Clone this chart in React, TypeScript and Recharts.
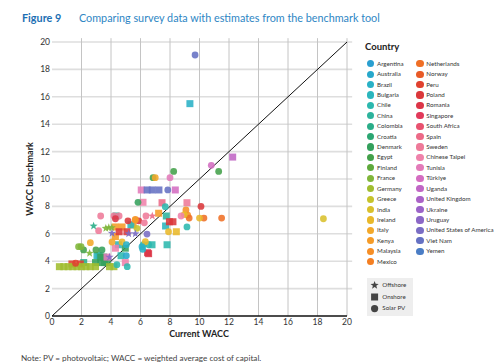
import { ScatterChart, Scatter, XAxis, YAxis, ReferenceLine } from 'recharts';

// Country legend order (two columns in the original)
const countries = [
  'Argentina', 'Australia', 'Brazil', 'Bulgaria', 'Chile', 'China', 'Colombia', 'Croatia',
  'Denmark', 'Egypt', 'Finland', 'France', 'Germany', 'Greece', 'India', 'Ireland', 'Italy',
  'Kenya', 'Malaysia', 'Mexico', 'Netherlands', 'Norway', 'Peru', 'Poland', 'Romania',
  'Singapore', 'South Africa', 'Spain', 'Sweden', 'Chinese Taipei', 'Tunisia', 'Türkiye',
  'Uganda', 'United Kingdom', 'Ukraine', 'Uruguay', 'United States of America', 'Viet Nam', 'Yemen',
];

const palette = [
  '#2a9fd0', '#27a8cb', '#29b1c6', '#2bb6bd', '#2cb8ae', '#2db39c', '#2bad88', '#2ca672',
  '#34a05c', '#43a04a', '#5ea93c', '#80b63a', '#a0bd2f', '#c6c32b', '#d9c02c', '#e9b82a', '#f3a82a',
  '#f59b27', '#f68e25', '#f47f22', '#ef6f25', '#e85a27', '#e0412f', '#db383b', '#dc3547',
  '#e13a5a', '#e8526f', '#ec6a87', '#ee7a99', '#ef82ab', '#e37bb9', '#d46dc1',
  '#c066c5', '#aa62c7', '#9b63c8', '#8b67c6', '#7a6dc4', '#6571c3', '#4a7dc5',
];

const shapeTypes = ['Offshore', 'Onshore', 'Solar PV'];

const xTicks = [0, 2, 4, 6, 8, 10, 12, 14, 16, 18, 20];
const yTicks = [0, 2, 4, 6, 8, 10, 12, 14, 16, 18, 20];
const diagonal = [{ x: 0, y: 0 }, { x: 20, y: 20 }];

// Survey points: current WACC (x) vs benchmark WACC (y)
const solarPv = [
  { c: 'Viet Nam', x: 9.7, y: 19.05 }, { c: 'Viet Nam', x: 7.85, y: 9.2 },
  { c: 'Egypt', x: 6.85, y: 10.1 }, { c: 'Egypt', x: 8.25, y: 10.55 }, { c: 'Egypt', x: 11.3, y: 10.55 },
  { c: 'Egypt', x: 2.14, y: 4.82 }, { c: 'Egypt', x: 2.98, y: 4.82 },
  { c: 'Italy', x: 7.0, y: 10.1 }, { c: 'Italy', x: 2.6, y: 5.35 }, { c: 'Italy', x: 4.07, y: 5.4 },
  { c: 'Tunisia', x: 8.0, y: 10.1 }, { c: 'Türkiye', x: 10.8, y: 11.0 },
  { c: 'Denmark', x: 5.83, y: 8.3 }, { c: 'Denmark', x: 3.39, y: 4.82 },
  { c: 'Chile', x: 7.68, y: 7.98 }, { c: 'Chile', x: 9.15, y: 6.5 }, { c: 'Chile', x: 6.2, y: 5.2 },
  { c: 'Chile', x: 6.55, y: 5.2 }, { c: 'Chile', x: 4.4, y: 3.75 }, { c: 'Chile', x: 5.1, y: 3.6 },
  { c: 'Poland', x: 10.1, y: 8.0 }, { c: 'Poland', x: 5.15, y: 6.95 }, { c: 'Poland', x: 5.88, y: 6.95 },
  { c: 'Malaysia', x: 9.08, y: 7.74 }, { c: 'Malaysia', x: 9.2, y: 7.37 }, { c: 'Malaysia', x: 5.65, y: 7.05 },
  { c: 'Netherlands', x: 9.3, y: 7.15 }, { c: 'Netherlands', x: 10.3, y: 7.15 }, { c: 'Netherlands', x: 11.5, y: 7.15 },
  { c: 'Ireland', x: 10.0, y: 7.15 }, { c: 'Ireland', x: 8.97, y: 7.4 }, { c: 'Ireland', x: 7.9, y: 6.15 },
  { c: 'Ireland', x: 4.75, y: 5.4 }, { c: 'Ireland', x: 6.33, y: 5.42 },
  { c: 'India', x: 18.4, y: 7.1 }, { c: 'Chinese Taipei', x: 8.75, y: 7.3 },
  { c: 'Sweden', x: 3.3, y: 7.3 }, { c: 'Sweden', x: 4.2, y: 7.3 }, { c: 'Sweden', x: 4.55, y: 7.3 },
  { c: 'Sweden', x: 6.37, y: 7.3 }, { c: 'Sweden', x: 3.16, y: 6.23 }, { c: 'Sweden', x: 6.26, y: 6.8 },
  { c: 'United States of America', x: 6.44, y: 5.98 },
  { c: 'France', x: 1.8, y: 5.06 }, { c: 'France', x: 1.97, y: 5.06 },
  { c: 'Kenya', x: 5.64, y: 7.0 }, { c: 'Romania', x: 4.3, y: 7.1 }, { c: 'Greece', x: 5.76, y: 6.4 },
  { c: 'Brazil', x: 6.15, y: 4.87 }, { c: 'Brazil', x: 5.04, y: 5.2 }, { c: 'Brazil', x: 6.1, y: 5.06 },
  { c: 'Australia', x: 5.04, y: 4.4 }, { c: 'Peru', x: 1.6, y: 3.85 },
];

const onshore = [
  { c: 'Brazil', x: 9.35, y: 15.5 }, { c: 'Uganda', x: 12.25, y: 11.6 },
  { c: 'Tunisia', x: 6.05, y: 9.2 }, { c: 'Viet Nam', x: 6.45, y: 9.2 }, { c: 'Viet Nam', x: 6.8, y: 9.2 },
  { c: 'Viet Nam', x: 7.25, y: 9.2 }, { c: 'Türkiye', x: 8.36, y: 9.2 },
  { c: 'Chinese Taipei', x: 6.17, y: 8.3 }, { c: 'Spain', x: 7.46, y: 8.27 }, { c: 'Sweden', x: 9.15, y: 8.27 },
  { c: 'Kenya', x: 7.23, y: 7.5 }, { c: 'Kenya', x: 4.3, y: 6.5 }, { c: 'Kenya', x: 4.75, y: 6.5 },
  { c: 'Kenya', x: 4.3, y: 5.8 }, { c: 'Kenya', x: 5.5, y: 6.65 },
  { c: 'China', x: 4.34, y: 7.3 }, { c: 'China', x: 7.75, y: 7.3 },
  { c: 'Bulgaria', x: 7.7, y: 6.57 }, { c: 'Bulgaria', x: 3.05, y: 4.4 }, { c: 'Bulgaria', x: 3.2, y: 4.4 },
  { c: 'Bulgaria', x: 4.5, y: 5.2 }, { c: 'Bulgaria', x: 5.35, y: 6.65 },
  { c: 'Poland', x: 7.96, y: 6.88 }, { c: 'Poland', x: 8.2, y: 6.88 }, { c: 'Poland', x: 4.55, y: 6.15 },
  { c: 'Poland', x: 5.08, y: 6.15 }, { c: 'Ireland', x: 8.43, y: 6.15 },
  { c: 'Chile', x: 6.78, y: 5.2 }, { c: 'Chile', x: 7.8, y: 5.2 }, { c: 'Chile', x: 4.68, y: 4.4 },
  { c: 'Romania', x: 6.48, y: 4.62 }, { c: 'Romania', x: 6.55, y: 4.55 },
  { c: 'Chinese Taipei', x: 4.3, y: 4.95 }, { c: 'Chinese Taipei', x: 4.97, y: 3.9 },
  { c: 'Denmark', x: 4.97, y: 4.95 }, { c: 'Denmark', x: 3.3, y: 3.9 }, { c: 'Denmark', x: 3.55, y: 3.9 },
  { c: 'Denmark', x: 3.75, y: 3.9 }, { c: 'Denmark', x: 2.95, y: 3.9 }, { c: 'Denmark', x: 3.5, y: 4.3 },
  { c: 'Denmark', x: 3.3, y: 4.3 }, { c: 'Colombia', x: 2.15, y: 3.9 },
  { c: 'Peru', x: 1.35, y: 3.8 }, { c: 'Peru', x: 1.92, y: 3.8 }, { c: 'Tunisia', x: 3.73, y: 4.3 },
  { c: 'Germany', x: 0.5, y: 3.6 }, { c: 'Germany', x: 0.8, y: 3.6 }, { c: 'Germany', x: 1.1, y: 3.6 },
  { c: 'Germany', x: 1.4, y: 3.6 }, { c: 'Germany', x: 1.7, y: 3.6 }, { c: 'Germany', x: 2.0, y: 3.6 },
  { c: 'Germany', x: 2.3, y: 3.6 }, { c: 'Germany', x: 2.6, y: 3.6 }, { c: 'Germany', x: 2.95, y: 3.6 },
  { c: 'Germany', x: 3.9, y: 3.6 }, { c: 'Germany', x: 4.2, y: 3.6 },
];

const offshore = [
  { c: 'Colombia', x: 2.82, y: 6.57 }, { c: 'France', x: 2.55, y: 4.58 },
  { c: 'France', x: 3.65, y: 6.4 }, { c: 'France', x: 3.85, y: 6.45 }, { c: 'France', x: 4.05, y: 6.45 },
  { c: 'Spain', x: 6.8, y: 7.3 },
  { c: 'United States of America', x: 4.07, y: 6.04 }, { c: 'United States of America', x: 5.2, y: 6.0 },
  { c: 'United States of America', x: 5.65, y: 6.0 }, { c: 'Uruguay', x: 3.9, y: 4.3 },
];

const FONT = 'Lato, "Open Sans", sans-serif';
const colorOf = (name: string) => palette[countries.indexOf(name)] ?? '#888';

const starPath = (cx: number, cy: number, ro: number, ri: number) => {
  let d = '';
  for (let i = 0; i < 10; i++) {
    const r = i % 2 === 0 ? ro : ri;
    const a = -Math.PI / 2 + (i * Math.PI) / 5;
    d += `${i === 0 ? 'M' : 'L'}${cx + r * Math.cos(a)},${cy + r * Math.sin(a)}`;
  }
  return d + 'Z';
};

const CircleDot = (p: any) => (
  <circle cx={p.cx} cy={p.cy} r={3.4} fill={colorOf(p.payload.c)} fillOpacity={0.88} />
);
const SquareDot = (p: any) => (
  <rect x={p.cx - 3.5} y={p.cy - 3.5} width={7} height={7} fill={colorOf(p.payload.c)} fillOpacity={0.88} />
);
const StarDot = (p: any) => (
  <path d={starPath(p.cx, p.cy, 4.3, 1.8)} fill={colorOf(p.payload.c)} fillOpacity={0.9} />
);

const legendText = { position: 'absolute' as const, fontSize: 6.2, color: '#333', whiteSpace: 'nowrap' as const, lineHeight: '8px' };

function CountryLegend() {
  const col2 = countries.indexOf('Netherlands');
  return (
    <div style={{ position: 'absolute', left: 360, top: 30, width: 140, height: 300 }}>
      <div style={{ position: 'absolute', left: 5, top: 11, fontSize: 9.5, fontWeight: 700, color: '#222', lineHeight: '12px' }}>Country</div>
      {countries.map((name, i) => {
        const col = i < col2 ? 0 : 1;
        const row = col === 0 ? i : i - col2;
        const cx = col === 0 ? 10.7 : 60;
        const cy = 33.7 + row * 10.42;
        return (
          <div key={name}>
            <div style={{ position: 'absolute', left: cx - 3.6, top: cy - 3.6, width: 7.2, height: 7.2, borderRadius: '50%', background: palette[i] }} />
            <div style={{ ...legendText, left: cx + 6.3, top: cy - 4 }}>{name}</div>
          </div>
        );
      })}
      <div style={{ position: 'absolute', left: 6.7, top: 247.7, width: 46, height: 38.3, background: '#eeeeee' }} />
      <svg width={20} height={40} style={{ position: 'absolute', left: 6.7, top: 247.7 }}>
        <path d={starPath(7.6, 7.3, 4.3, 1.8)} fill="#444" />
        <rect x={4.1} y={15.5} width={7} height={7} fill="#444" />
        <circle cx={7.6} cy={30.6} r={3.6} fill="#444" />
      </svg>
      {shapeTypes.map((s, i) => (
        <div key={s} style={{ ...legendText, left: 22.3, top: 251 + i * 11.65 }}>{s}</div>
      ))}
    </div>
  );
}

export default function App() {
  return (
    <div style={{ position: 'absolute', left: 0, top: 0, width: 500, height: 364, background: '#fff', fontFamily: FONT }}>
      <div style={{ position: 'absolute', left: 22, top: 11, fontSize: 10.8, whiteSpace: 'nowrap', lineHeight: '14px' }}>
        <span style={{ color: '#1c6fb3', fontWeight: 700 }}>Figure 9</span>
        <span style={{ color: '#2e86c4', position: 'absolute', left: 57 }}>
          Comparing survey data with estimates from the benchmark tool
        </span>
      </div>

      <div style={{ position: 'absolute', left: 0, top: 0, width: 360, height: 350 }}>
        <ScatterChart width={360} height={350} margin={{ top: 42, right: 13, left: 0, bottom: 0 }}>
          <XAxis
            type="number"
            dataKey="x"
            domain={[0, 20]}
            ticks={xTicks}
            tickLine={false}
            axisLine={{ stroke: '#111', strokeWidth: 1.5 }}
            tick={{ fontSize: 8.5, fill: '#333', fontFamily: FONT }}
            height={34}
            tickSize={3}
            tickMargin={0}
          />
          <YAxis
            type="number"
            dataKey="y"
            domain={[0, 20]}
            ticks={yTicks}
            tickLine={false}
            axisLine={false}
            tick={{ fontSize: 8.5, fill: '#333', fontFamily: FONT }}
            width={52}
            tickSize={2}
            tickMargin={0}
          />

          {yTicks.filter((t) => t > 0).map((t) => (
            <ReferenceLine key={'h' + t} segment={[{ x: 0, y: t }, { x: 20.35, y: t }]} stroke="#dedede" strokeWidth={1.6} ifOverflow="visible" />
          ))}
          {xTicks.filter((t) => t > 0).map((t) => (
            <ReferenceLine key={'v' + t} segment={[{ x: t, y: 0 }, { x: t, y: 20.28 }]} stroke="#c4c4c4" strokeWidth={1} ifOverflow="visible" />
          ))}

          <Scatter data={onshore} shape={SquareDot} isAnimationActive={false} />
          <Scatter data={solarPv} shape={CircleDot} isAnimationActive={false} />
          <Scatter data={offshore} shape={StarDot} isAnimationActive={false} />
          <ReferenceLine segment={diagonal} stroke="#111" strokeWidth={1} ifOverflow="visible" />
        </ScatterChart>
      </div>

      <div style={{ position: 'absolute', left: 149, width: 100, top: 328, textAlign: 'center', fontSize: 9, fontWeight: 700, color: '#222', lineHeight: '12px' }}>
        Current WACC
      </div>
      <div style={{ position: 'absolute', left: -20, top: 173, width: 100, textAlign: 'center', fontSize: 9, fontWeight: 700, color: '#222', lineHeight: '12px', transform: 'rotate(-90deg)' }}>
        WACC benchmark
      </div>

      <CountryLegend />

      <div style={{ position: 'absolute', left: 21, top: 352, fontSize: 8.2, color: '#444', whiteSpace: 'nowrap', lineHeight: '12px' }}>
        Note: PV = photovoltaic; WACC = weighted average cost of capital.
      </div>
    </div>
  );
}
